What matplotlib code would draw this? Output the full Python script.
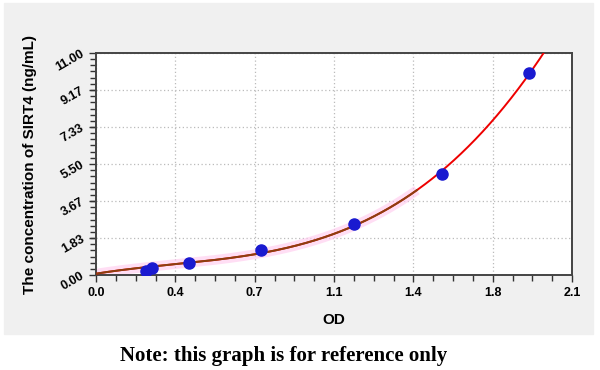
import numpy as np
import matplotlib.pyplot as plt
from matplotlib.patches import Rectangle

# standard points
od = [0.22, 0.245, 0.41, 0.73, 1.14, 1.525, 1.91]
conc = [0.21, 0.33, 0.61, 1.24, 2.51, 5.0, 10.0]
# where the fitted curve meets the y axis
curve_start = (0.0, 0.08)

x_ticks = [0.0, 0.35, 0.7, 1.05, 1.4, 1.75, 2.1]
x_labels = ["0.0", "0.4", "0.7", "1.1", "1.4", "1.8", "2.1"]
y_ticks = [0.0, 1.83, 3.67, 5.5, 7.33, 9.17, 11.0]
y_labels = ["0.00", "1.83", "3.67", "5.50", "7.33", "9.17", "11.00"]

fig = plt.figure(figsize=(6, 3.7), dpi=100)
bg = Rectangle((4 / 600, 1 - 334 / 370), 589 / 600, 331 / 370,
               transform=fig.transFigure, color="#f0f0f0", zorder=-1)
fig.add_artist(bg)

ax = fig.add_axes([96 / 600, 1 - 275 / 370, 476 / 600, 222 / 370])
ax.set_zorder(1)
ax.set_facecolor("white")

# fitted standard curve (cubic)
fx = [curve_start[0]] + od
fy = [curve_start[1]] + conc
w = [3] + [1] * len(od)
coef = np.polyfit(fx, fy, 3, w=w)
xs = np.linspace(0, 2.1, 400)
ys = np.polyval(coef, xs)
keep = ys <= 11.5
xs, ys = xs[keep], ys[keep]
low = xs <= 1.42
ax.plot(xs[low], ys[low], color="#ffc8ee", lw=7, alpha=0.6, zorder=2, solid_capstyle="butt")
ax.plot(xs, ys, color="#ee0000", lw=1.4, zorder=3)
ax.plot(xs[low], ys[low], color="#8a4010", lw=1.4, zorder=4)
ax.plot(od, conc, "o", color="#1a1ad0", ms=8, zorder=5)

ax.set_xlim(0, 2.1)
ax.set_ylim(0, 11)
ax.set_xticks(x_ticks)
ax.set_xticklabels(x_labels)
ax.set_yticks(y_ticks)
ax.set_yticklabels(y_labels, rotation=30, rotation_mode="anchor", ha="right", va="center")
ax.set_xticks(np.linspace(0, 2.1, 25), minor=True)
ax.set_yticks(np.linspace(0, 11, 37), minor=True)
ax.tick_params(which="both", direction="out", color="#333333", width=1, top=False, right=False)
ax.tick_params(which="major", length=5, pad=4)
ax.tick_params(which="minor", length=4)
for lab in ax.get_xticklabels() + ax.get_yticklabels():
    lab.set_fontweight("bold")
    lab.set_fontsize(9)
    lab.set_family("Liberation Sans")
for sp in ax.spines.values():
    sp.set_color("#444444")
    sp.set_linewidth(1.4)
ax.grid(True, which="major", color="#bbbbbb", linestyle=(0, (1, 2)), lw=0.9)

ax.set_xlabel("OD", fontsize=11, fontweight="bold", family="Liberation Sans", labelpad=10)
ax.set_ylabel("The concentration of SIRT4 (ng/mL)", fontsize=11, fontweight="bold",
              family="Liberation Sans", labelpad=12)

fig.text(284 / 600, 1 - 356 / 370, "Note: this graph is for reference only",
         ha="center", va="center", fontsize=15, fontweight="bold", family="Liberation Serif")

fig.savefig("out.png", dpi=100)
